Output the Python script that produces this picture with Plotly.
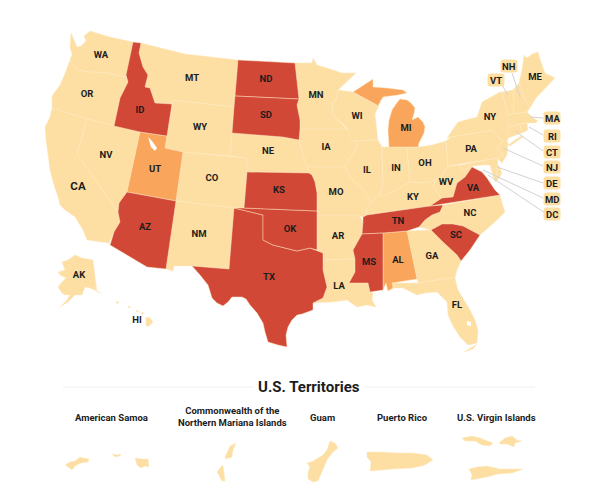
import plotly.graph_objects as go

# State outlines (x, y in picture units)
WA=[(71,33),(73,37),(75,42),(77,47),(81,46),(86,41),(84,36),(90,31),(110,37),(133,42),(126,75),(126,77),(107,73),(90,72),(77,70),(70,60),(72,54),(70,48)]
OR=[(70,60),(77,70),(90,72),(107,73),(126,77),(128,82),(120,98),(114,126),(87,119),(52,108),(52,96),(55,92),(60,85),(64,76)]
ID=[(133,42),(141,43),(139,53),(143,67),(148,75),(145,87),(150,88),(155,103),(172,104),(167,136),(140,132),(114,126),(120,98),(128,82),(126,75)]
MT=[(141,43),(185,54),(238,60),(236,96),(234,107),(173,100),(172,104),(155,103),(150,88),(145,87),(148,75),(143,67),(139,53)]
WY=[(173,100),(234,107),(232,133),(230,156),(183,152),(165,148)]
CO=[(183,152),(230,156),(247,158),(247,172),(244,208),(234,208),(176,201)]
UT=[(140,132),(167,136),(165,148),(183,152),(176,201),(127,192)]
NV=[(87,119),(114,126),(140,132),(127,192),(119,203),(118,212),(77,154)]
CA=[(52,108),(87,119),(77,154),(118,212),(120,222),(114,232),(109,243),(87,240),(83,230),(75,217),(65,210),(60,205),(58,197),(53,182),(50,170),(48,157),(46,140),(45,127),(50,117)]
AZ=[(127,192),(176,201),(166,269),(147,267),(110,245),(114,232),(120,222),(118,212),(119,203)]
NM=[(176,201),(234,208),(229,269),(192,266),(174,266),(173,271),(166,269)]
TX=[(234,208),(263,215),(263,240),(273,245),(297,251),(310,248),(323,253),(323,270),(327,287),(323,298),(313,303),(313,310),(302,314),(297,315),(292,320),(288,327),(286,335),(287,347),(278,345),(268,342),(265,332),(263,323),(257,313),(250,305),(246,299),(242,297),(232,297),(228,302),(223,306),(217,303),(212,298),(210,290),(208,285),(200,275),(192,266),(229,269)]
OK=[(234,208),(244,208),(317,211),(317,216),(317,250),(310,248),(297,251),(273,245),(263,240),(263,215)]
KS=[(247,172),(309,173),(312,175),(315,182),(317,193),(317,211),(244,208)]
NE=[(232,133),(283,137),(299,140),(303,155),(309,173),(247,172),(247,158),(230,156)]
SD=[(235,96),(299,99),(297,105),(300,120),(300,129),(299,140),(283,137),(232,133),(234,107)]
ND=[(238,60),(295,63),(298,90),(299,99),(235,96)]
MN=[(295,63),(312,63),(313,58),(317,65),(333,70),(342,73),(356,73),(338,90),(336,100),(332,103),(333,115),(347,128),(347,129),(300,129),(300,120),(297,105),(299,99),(298,90)]
IA=[(300,129),(347,129),(355,140),(357,147),(347,163),(345,167),(307,167),(303,155),(299,140)]
WI=[(338,90),(353,92),(377,105),(377,107),(381,101),(375,114),(378,140),(352,141),(347,128),(333,115),(332,103),(336,100)]
MI_UP=[(353,92),(362,86),(373,79),(373,87),(387,88),(403,90),(407,93),(398,95),(383,97),(377,107),(377,105)]
MI_LP=[(389,147),(388,130),(389,120),(392,110),(396,104),(400,99),(407,100),(411,103),(415,108),(414,114),(412,120),(418,117),(423,122),(425,127),(424,133),(422,137),(419,143),(418,147)]
IL=[(352,141),(378,140),(382,147),(383,187),(379,195),(371,203),(364,190),(350,178),(345,167),(347,163),(357,147),(355,140)]
IN=[(382,147),(389,147),(407,147),(410,182),(400,188),(387,195),(379,195),(383,187)]
OH=[(407,147),(418,147),(432,145),(446,141),(448,166),(443,175),(435,180),(428,183),(410,182)]
KY=[(371,203),(379,195),(387,195),(400,188),(410,182),(428,183),(435,180),(433,187),(442,198),(430,206),(380,213),(367,215),(366,210)]
MO=[(307,167),(345,167),(350,178),(364,190),(371,203),(366,210),(367,215),(363,217),(360,216),(317,216),(317,193),(315,182),(312,175),(309,173)]
AR=[(317,216),(360,216),(363,222),(362,234),(353,250),(355,259),(323,260),(323,253),(317,250)]
LA=[(323,260),(355,259),(355,272),(349,283),(368,283),(370,292),(373,293),(372,300),(376,307),(367,305),(357,307),(347,300),(333,302),(313,303),(323,298),(327,287),(323,270)]
MS=[(362,234),(383,233),(383,290),(370,292),(368,283),(349,283),(355,272),(355,259),(353,250)]
AL=[(383,233),(407,231),(417,279),(392,283),(393,288),(388,291),(386,283),(383,290)]
TN=[(367,215),(380,213),(430,206),(443,205),(440,212),(432,215),(425,220),(419,227),(407,231),(383,233),(362,234),(363,222),(363,217)]
GA=[(407,231),(431,230),(443,242),(457,255),(461,261),(457,270),(455,278),(450,278),(418,283),(417,279)]
SC=[(431,230),(442,224),(453,224),(463,226),(480,235),(470,250),(461,261),(457,255),(443,242)]
NC=[(443,205),(500,195),(502,203),(505,212),(497,220),(488,228),(480,235),(463,226),(453,224),(442,224),(431,230),(419,227),(425,220),(432,215),(440,212)]
VA=[(430,206),(442,198),(453,197),(457,183),(465,177),(472,167),(482,172),(487,178),(495,190),(500,195)]
WV=[(448,166),(460,165),(463,170),(473,166),(472,167),(465,177),(457,183),(453,197),(442,198),(433,187),(435,180),(443,175)]
FL=[(386,283),(392,283),(418,283),(450,278),(455,278),(458,290),(464,300),(470,310),(475,320),(478,330),(477,343),(468,345),(460,337),(453,326),(448,315),(447,302),(437,292),(425,293),(417,295),(403,288),(393,288),(388,291)]
FL_KEYS=[(464,352),(472,347),(477,344),(473,349)]
PA=[(446,141),(451,137),(493,130),(498,137),(503,140),(497,147),(503,155),(498,158),(448,166)]
NY=[(451,137),(447,138),(458,122),(477,117),(482,102),(500,92),(502,92),(508,115),(508,127),(508,138),(507,143),(503,140),(498,137),(493,130)]
LONG_ISLAND=[(508,145),(521,136),(523,137),(510,146)]
VT=[(502,92),(513,90),(514,105),(513,114),(508,115)]
NH=[(513,90),(519,83),(524,97),(530,108),(527,112),(513,114),(514,105)]
ME=[(524,55),(527,58),(532,54),(538,52),(541,62),(545,73),(555,78),(549,84),(543,90),(536,98),(530,108),(524,97),(519,83),(522,70)]
MA=[(508,115),(513,114),(527,112),(532,117),(538,121),(535,123),(527,123),(520,124),(508,127)]
CT=[(508,127),(520,124),(522,133),(508,138)]
RI=[(520,124),(527,123),(528,130),(522,133)]
NJ=[(498,137),(503,140),(508,142),(507,155),(502,163),(497,158),(503,155),(497,147),(503,140)]
DE=[(498,158),(497,162),(502,173),(496,175)]
MD=[(460,165),(498,158),(496,175),(502,173),(498,180),(495,182),(492,172),(490,165),(483,165),(473,166),(463,170)]
AK=[(75,255),(82,258),(93,260),(95,277),(97,292),(101,293),(90,288),(85,287),(82,295),(75,295),(68,302),(60,307),(67,300),(70,295),(65,295),(62,293),(58,287),(62,282),(66,278),(60,275),(58,272),(65,270),(62,262),(68,260)]
HI_BIG=[(146,317),(150,318),(153,322),(149,326),(146,326)]
HI_MAUI=[(141,312),(144,313),(143,315)]
HI_OAHU=[(136,310),(139,311),(137,312)]
HI_KAUAI=[(128,306),(131,307),(129,308)]
HI_NIIHAU=[(116,301),(119,302),(117,304)]

# Territories
AS_TUTUILA=[(65,465),(70,462),(75,461),(80,457),(83,458),(89,459),(88,462),(81,463),(75,466),(72,470),(68,467)]
AS_OFU=[(112,454),(117,455),(121,454),(120,456),(115,457)]
AS_TAU=[(135,458),(142,459),(148,459),(149,467),(145,466),(141,468),(137,465)]
MP_SAIPAN=[(236,443),(233,450),(232,457),(226,459),(225,457),(228,451),(230,446)]
MP_TINIAN=[(223,465),(224,472),(225,481),(222,481),(219,475),(217,472),(220,468)]
GU=[(330,441),(335,443),(338,448),(332,453),(327,460),(321,473),(318,481),(313,482),(308,479),(308,472),(310,467),(307,463),(313,461),(323,455),(327,450)]
PR=[(367,452),(380,452),(400,453),(413,453),(427,455),(433,460),(425,465),(413,468),(393,469),(370,471),(371,462),(367,457)]
VI_THOMAS=[(462,438),(472,436),(480,438),(493,443),(490,446),(482,445),(475,441),(465,441)]
VI_JOHN=[(500,442),(505,438),(512,436),(517,440),(522,441),(515,443),(514,447),(507,444),(500,444)]
VI_CROIX=[(469,469),(477,467),(487,466),(500,469),(523,469),(512,473),(498,474),(487,477),(471,480),(472,475)]

# Holes in the land
SALT_LAKE=[(148,137),(152,141),(157,148),(155,151),(151,147)]
OKEECHOBEE=[(467,321),(471,322),(471,326),(467,325)]

# Categories
TAN_SHAPES=[WA,OR,MT,WY,CO,NV,CA,NM,NE,MN,IA,WI,IL,IN,OH,KY,MO,AR,LA,GA,NC,WV,FL,FL_KEYS,PA,NY,LONG_ISLAND,VT,NH,ME,MA,CT,RI,NJ,DE,MD,AK,HI_BIG,HI_MAUI,HI_OAHU,HI_KAUAI,HI_NIIHAU,
            AS_TUTUILA,AS_OFU,AS_TAU,MP_SAIPAN,MP_TINIAN,GU,PR,VI_THOMAS,VI_JOHN,VI_CROIX]
ORANGE_SHAPES=[UT,MI_UP,MI_LP,AL]
RED_SHAPES=[ID,ND,SD,AZ,TX,OK,KS,TN,MS,SC,VA]
HOLE_SHAPES=[SALT_LAKE,OKEECHOBEE]

LABELS=["WA","OR","ID","MT","WY","ND","SD","NV","UT","CO","NE","AZ","NM","KS","OK","TX","MN","WI","MI","IA","IL","IN","OH","KY","WV","VA","PA","NY","ME","MO","AR","LA","MS","AL","TN","GA","SC","NC","FL","AK","HI"]
LABEL_X=[101,87,140,192,200,266,266,106,155,212,268,145,199,279,290,269,316,357,406,326,367,396,425,413,446,473,471,490,535,336,338,339,369,398,398,432,456,470,457,79,137]
LABEL_Y=[56,95,111,79,128,80,116,156,170,179,152,228,235,191,230,278,96,117,129,148,171,169,164,198,183,189,150,118,78,193,237,287,263,261,222,257,236,214,306,276,321]

CHIPS=["NH","VT","MA","RI","CT","NJ","DE","MD","DC"]
CHIP_X=[509,496,552,552,552,552,552,552,552]
CHIP_Y=[66,80,118,136,152,167,183,199,214]
LEAD_FROM_X=[512,502,543,543,543,543,543,543,545]
LEAD_FROM_Y=[73,85,118,135,151,166,183,198,213]
LEAD_TO_X=[520,508,530,529,515,503,497,483,488]
LEAD_TO_Y=[97,95,117,127,131,148,167,170,175]

TERRITORIES=["American Samoa","Commonwealth of the<br>Northern Mariana Islands","Guam","Puerto Rico","U.S. Virgin Islands"]
TERR_X=[111,232,322,402,496]
TERR_Y=[417,416,417,417,417]

TAN="#FDDFA4"; ORANGE="#F9A65C"; RED="#D14836"; INK="#1c1c1c"
BORDER="#FEE8C0"
FONT="Roboto"

fig=go.Figure()

def add_poly(pts,color,line=BORDER,w=0.45):
    xs=[p[0] for p in pts]+[pts[0][0]]
    ys=[p[1] for p in pts]+[pts[0][1]]
    fig.add_trace(go.Scatter(x=xs,y=ys,mode="lines",fill="toself",fillcolor=color,
                             line=dict(color=line,width=w),hoverinfo="skip",showlegend=False))

for p in TAN_SHAPES: add_poly(p,TAN)
for p in ORANGE_SHAPES: add_poly(p,ORANGE)
for p in RED_SHAPES: add_poly(p,RED)
for p in HOLE_SHAPES: add_poly(p,"#ffffff",line="#ffffff",w=0)

# leader lines
for x0,y0,x1,y1 in zip(LEAD_FROM_X,LEAD_FROM_Y,LEAD_TO_X,LEAD_TO_Y):
    fig.add_trace(go.Scatter(x=[x0,x1],y=[y0,y1],mode="lines",line=dict(color="#d2d2d2",width=1),
                             hoverinfo="skip",showlegend=False))

# state labels
fig.add_trace(go.Scatter(x=LABEL_X,y=LABEL_Y,mode="text",text=LABELS,textposition="middle center",
    textfont=dict(family=FONT,size=9.5,color=INK,weight="bold"),hoverinfo="skip",showlegend=False))
fig.add_trace(go.Scatter(x=[78],y=[187],mode="text",text=["CA"],textposition="middle center",
    textfont=dict(family=FONT,size=11.5,color=INK,weight="bold"),hoverinfo="skip",showlegend=False))

# chips
shapes=[]
W,H,R=8.5,6.5,3
for cx,cy in zip(CHIP_X,CHIP_Y):
    l,r,t,b=cx-W,cx+W,cy-H,cy+H
    path=(f"M{l+R},{t} L{r-R},{t} Q{r},{t} {r},{t+R} L{r},{b-R} Q{r},{b} {r-R},{b} "
          f"L{l+R},{b} Q{l},{b} {l},{b-R} L{l},{t+R} Q{l},{t} {l+R},{t} Z")
    shapes.append(dict(type="path",path=path,fillcolor=TAN,line=dict(width=0),layer="above"))
shapes.append(dict(type="line",x0=63,x1=535,y0=387,y1=387,line=dict(color="#f0f0f0",width=1),layer="below"))

annotations=[dict(x=x,y=y,text=c,showarrow=False,font=dict(family=FONT,size=9.5,color=INK,weight="bold"))
             for c,x,y in zip(CHIPS,CHIP_X,CHIP_Y)]
annotations.append(dict(x=309,y=387,text="U.S. Territories",showarrow=False,bgcolor="#ffffff",borderpad=4,
                        font=dict(family=FONT,size=15,color=INK,weight="bold")))
for t,x,y in zip(TERRITORIES,TERR_X,TERR_Y):
    annotations.append(dict(x=x,y=y,text=t,showarrow=False,align="center",
                            font=dict(family=FONT,size=9.5,color=INK,weight="bold")))

fig.update_layout(width=600,height=502,margin=dict(l=0,r=0,t=0,b=0),
    paper_bgcolor="#ffffff",plot_bgcolor="#ffffff",showlegend=False,
    xaxis=dict(range=[0,600],visible=False,fixedrange=True),
    yaxis=dict(range=[502,0],visible=False,fixedrange=True),
    shapes=shapes,annotations=annotations)
fig.write_html("out.html",config=dict(displayModeBar=False),post_script="document.body.style.margin='0';")
